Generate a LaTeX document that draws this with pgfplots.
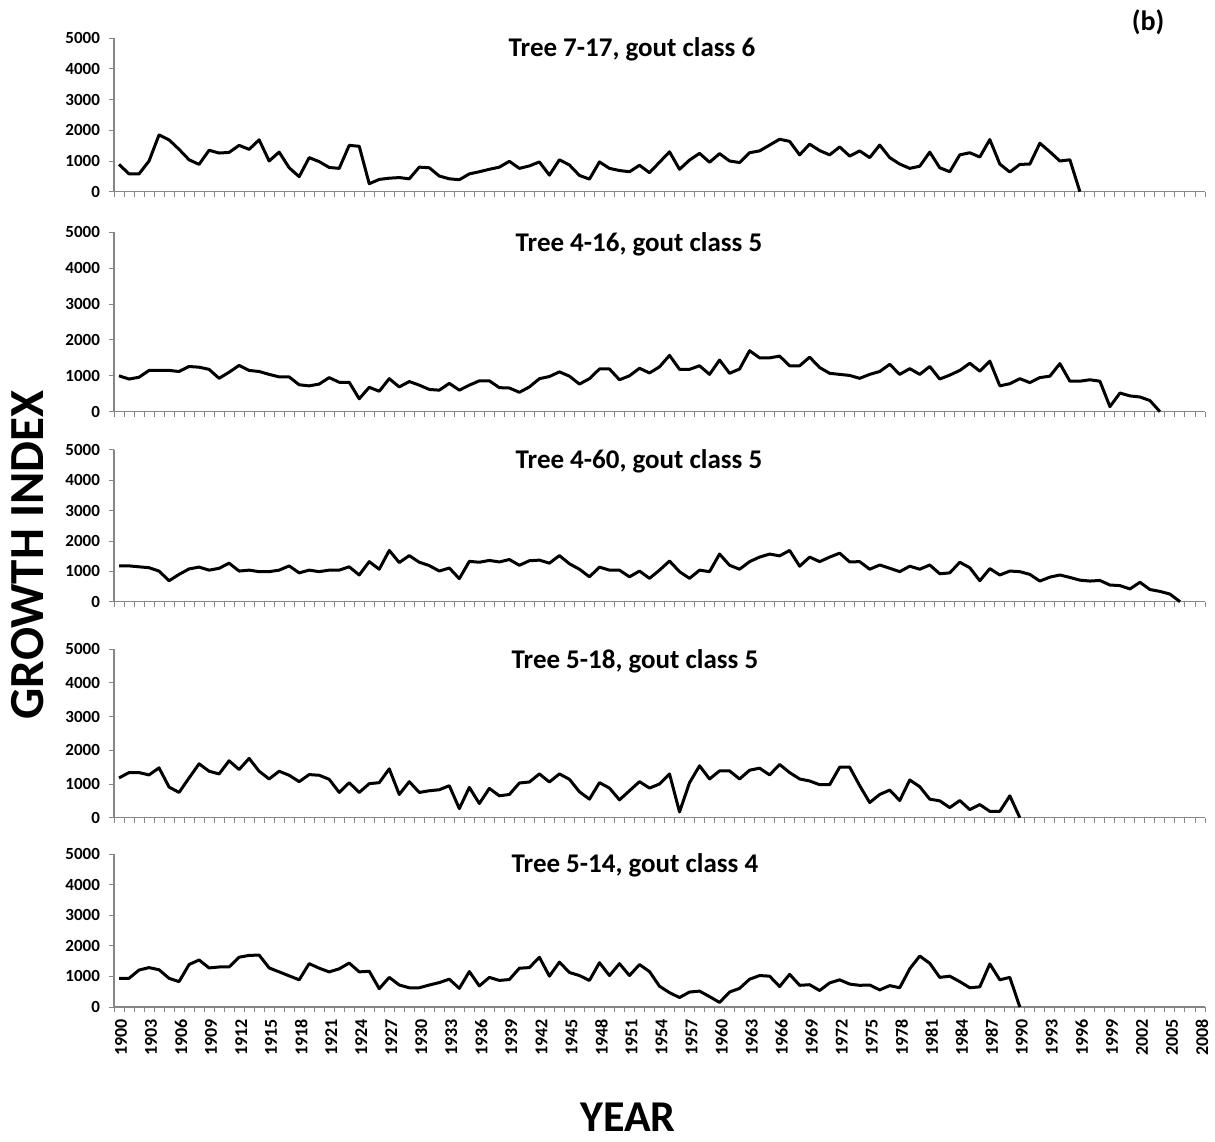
\documentclass[border=0pt]{standalone}
\usepackage{pgfplots}
\pgfplotsset{compat=1.18}
\usepackage{pgfplotstable}
\usepackage{fontspec}
\setmainfont{Carlito}
\definecolor{axisgrey}{HTML}{868686}

\pgfplotstableread{
year val
1900 890
1901 580
1902 580
1903 1000
1904 1850
1905 1690
1906 1380
1907 1040
1908 890
1909 1350
1910 1260
1911 1280
1912 1510
1913 1380
1914 1690
1915 1000
1916 1290
1917 780
1918 490
1919 1110
1920 980
1921 790
1922 760
1923 1510
1924 1480
1925 260
1926 400
1927 440
1928 460
1929 420
1930 800
1931 780
1932 510
1933 420
1934 390
1935 580
1936 650
1937 730
1938 800
1939 990
1940 760
1941 840
1942 970
1943 540
1944 1040
1945 870
1946 530
1947 410
1948 970
1949 760
1950 690
1951 650
1952 860
1953 620
1954 960
1955 1300
1956 730
1957 1030
1958 1250
1959 960
1960 1240
1961 1000
1962 950
1963 1270
1964 1330
1965 1520
1966 1710
1967 1640
1968 1200
1969 1550
1970 1340
1971 1200
1972 1460
1973 1160
1974 1330
1975 1110
1976 1520
1977 1110
1978 900
1979 760
1980 830
1981 1290
1982 780
1983 650
1984 1200
1985 1270
1986 1130
1987 1700
1988 900
1989 640
1990 890
1991 900
1992 1580
1993 1300
1994 1000
1995 1040
1996 0
}\treeA

\pgfplotstableread{
year val
1900 1000
1901 910
1902 960
1903 1150
1904 1150
1905 1150
1906 1120
1907 1260
1908 1240
1909 1180
1910 930
1911 1100
1912 1290
1913 1150
1914 1120
1915 1040
1916 970
1917 970
1918 750
1919 720
1920 770
1921 950
1922 820
1923 820
1924 360
1925 680
1926 570
1927 920
1928 690
1929 840
1930 740
1931 620
1932 600
1933 790
1934 600
1935 740
1936 860
1937 860
1938 670
1939 660
1940 540
1941 690
1942 920
1943 980
1944 1110
1945 990
1946 770
1947 920
1948 1190
1949 1190
1950 890
1951 1000
1952 1210
1953 1080
1954 1250
1955 1570
1956 1180
1957 1180
1958 1280
1959 1040
1960 1440
1961 1070
1962 1190
1963 1700
1964 1500
1965 1500
1966 1550
1967 1280
1968 1280
1969 1520
1970 1230
1971 1070
1972 1040
1973 1010
1974 930
1975 1040
1976 1120
1977 1320
1978 1040
1979 1200
1980 1040
1981 1260
1982 910
1983 1020
1984 1150
1985 1350
1986 1130
1987 1410
1988 720
1989 780
1990 920
1991 810
1992 950
1993 990
1994 1340
1995 850
1996 850
1997 890
1998 850
1999 140
2000 520
2001 440
2002 410
2003 310
2004 0
}\treeB

\pgfplotstableread{
year val
1900 1180
1901 1180
1902 1150
1903 1120
1904 1010
1905 690
1906 900
1907 1080
1908 1140
1909 1040
1910 1100
1911 1270
1912 1010
1913 1040
1914 990
1915 990
1916 1040
1917 1180
1918 950
1919 1040
1920 990
1921 1040
1922 1040
1923 1150
1924 880
1925 1320
1926 1070
1927 1690
1928 1290
1929 1520
1930 1300
1931 1190
1932 1010
1933 1110
1934 760
1935 1330
1936 1300
1937 1360
1938 1310
1939 1390
1940 1200
1941 1350
1942 1370
1943 1270
1944 1520
1945 1250
1946 1070
1947 820
1948 1140
1949 1040
1950 1040
1951 820
1952 1010
1953 770
1954 1040
1955 1340
1956 990
1957 770
1958 1040
1959 990
1960 1570
1961 1200
1962 1070
1963 1320
1964 1470
1965 1570
1966 1510
1967 1690
1968 1170
1969 1470
1970 1320
1971 1470
1972 1600
1973 1310
1974 1320
1975 1070
1976 1210
1977 1100
1978 990
1979 1170
1980 1070
1981 1210
1982 920
1983 950
1984 1300
1985 1120
1986 690
1987 1090
1988 880
1989 1010
1990 990
1991 900
1992 680
1993 810
1994 880
1995 800
1996 710
1997 680
1998 700
1999 550
2000 530
2001 420
2002 640
2003 400
2004 340
2005 250
2006 0
}\treeC

\pgfplotstableread{
year val
1900 1180
1901 1340
1902 1340
1903 1270
1904 1480
1905 910
1906 750
1907 1180
1908 1600
1909 1380
1910 1300
1911 1690
1912 1430
1913 1760
1914 1380
1915 1150
1916 1380
1917 1260
1918 1070
1919 1280
1920 1260
1921 1140
1922 750
1923 1040
1924 750
1925 1010
1926 1040
1927 1450
1928 690
1929 1070
1930 750
1931 800
1932 830
1933 950
1934 270
1935 900
1936 420
1937 870
1938 650
1939 690
1940 1030
1941 1060
1942 1300
1943 1060
1944 1300
1945 1140
1946 770
1947 550
1948 1040
1949 880
1950 530
1951 800
1952 1070
1953 880
1954 1000
1955 1300
1956 170
1957 1040
1958 1540
1959 1150
1960 1390
1961 1390
1962 1150
1963 1410
1964 1470
1965 1270
1966 1580
1967 1340
1968 1150
1969 1090
1970 980
1971 980
1972 1500
1973 1500
1974 950
1975 450
1976 690
1977 820
1978 510
1979 1120
1980 920
1981 550
1982 500
1983 300
1984 510
1985 240
1986 390
1987 190
1988 190
1989 650
1990 0
}\treeD

\pgfplotstableread{
year val
1900 940
1901 940
1902 1210
1903 1290
1904 1220
1905 940
1906 830
1907 1390
1908 1540
1909 1280
1910 1310
1911 1310
1912 1630
1913 1690
1914 1700
1915 1280
1916 1150
1917 1020
1918 890
1919 1420
1920 1270
1921 1150
1922 1250
1923 1440
1924 1150
1925 1170
1926 600
1927 970
1928 720
1929 630
1930 630
1931 720
1932 800
1933 910
1934 610
1935 1160
1936 690
1937 970
1938 870
1939 900
1940 1270
1941 1290
1942 1630
1943 1010
1944 1470
1945 1130
1946 1030
1947 870
1948 1450
1949 1030
1950 1420
1951 1030
1952 1390
1953 1160
1954 680
1955 470
1956 310
1957 490
1958 520
1959 340
1960 150
1961 490
1962 610
1963 910
1964 1030
1965 1010
1966 670
1967 1070
1968 710
1969 730
1970 540
1971 790
1972 890
1973 750
1974 710
1975 720
1976 560
1977 700
1978 630
1979 1250
1980 1670
1981 1430
1982 970
1983 1010
1984 830
1985 630
1986 660
1987 1410
1988 890
1989 970
1990 0
}\treeE

\pgfplotsset{
  panel/.style={
    scale only axis, width=545.5pt,
    anchor=south west,
    xmin=1899.5, xmax=2008.5, ymin=0, ymax=5000,
    axis lines*=left,
    axis line style={draw=axisgrey, line width=0.6pt},
    tick align=outside,
    major tick length=2.5pt,
    tick style={draw=axisgrey, line width=0.5pt},
    ytick={0,1000,2000,3000,4000,5000},
    xtick={1899.5,1900.5,...,2008.5},
    xticklabels={},
    /pgf/number format/1000 sep={},
    /pgf/number format/assume math mode=true,
    ticklabel style={font=\bfseries\fontsize{8.5}{10}\selectfont, text=black},
    y tick label style={xshift=-1pt},
    clip=false,
  },
  treeline/.style={black, line width=1.5pt, line join=round, no marks},
}

\begin{document}
\begin{tikzpicture}
\path[use as bounding box] (0,0) rectangle (607.5pt,570.5pt);

\begin{axis}[panel, at={(57pt,474.65pt)}, height=76.7pt]
\addplot[treeline] table[x=year,y=val] {\treeA};
\end{axis}

\begin{axis}[panel, at={(57pt,364.65pt)}, height=89.7pt]
\addplot[treeline] table[x=year,y=val] {\treeB};
\end{axis}

\begin{axis}[panel, at={(57pt,269.65pt)}, height=75.85pt]
\addplot[treeline] table[x=year,y=val] {\treeC};
\end{axis}

\begin{axis}[panel, at={(57pt,161.65pt)}, height=84.2pt]
\addplot[treeline] table[x=year,y=val] {\treeD};
\end{axis}

\begin{axis}[panel, at={(57pt,67pt)}, height=76.35pt,
  extra x ticks={1900,1903,...,2008},
  extra x tick labels={1900,1903,1906,1909,1912,1915,1918,1921,1924,1927,1930,1933,1936,1939,1942,1945,1948,1951,1954,1957,1960,1963,1966,1969,1972,1975,1978,1981,1984,1987,1990,1993,1996,1999,2002,2005,2008},
  extra x tick style={tick style={draw=none}, tick label style={rotate=90, anchor=east, yshift=-1pt, font=\bfseries\fontsize{9}{10}\selectfont}},
]
\addplot[treeline] table[x=year,y=val] {\treeE};
\end{axis}

\node[font=\bfseries\fontsize{13.5}{16}\selectfont] at (316pt,546pt) {Tree 7-17, gout class 6};
\node[font=\bfseries\fontsize{13.5}{16}\selectfont] at (319.5pt,448.5pt) {Tree 4-16, gout class 5};
\node[font=\bfseries\fontsize{13.5}{16}\selectfont] at (319.5pt,340pt) {Tree 4-60, gout class 5};
\node[font=\bfseries\fontsize{13.5}{16}\selectfont] at (317.5pt,240pt) {Tree 5-18, gout class 5};
\node[font=\bfseries\fontsize{13.5}{16}\selectfont] at (317.5pt,138pt) {Tree 5-14, gout class 4};
\node[font=\bfseries\fontsize{14}{16}\selectfont] at (574pt,559.5pt) {(b)};
\node[font=\bfseries\fontsize{24.5}{28}\selectfont, rotate=90] at (14pt,293pt) {GROWTH INDEX};
\node[font=\bfseries\fontsize{22}{26}\selectfont] at (314pt,12pt) {YEAR};
\end{tikzpicture}
\end{document}
